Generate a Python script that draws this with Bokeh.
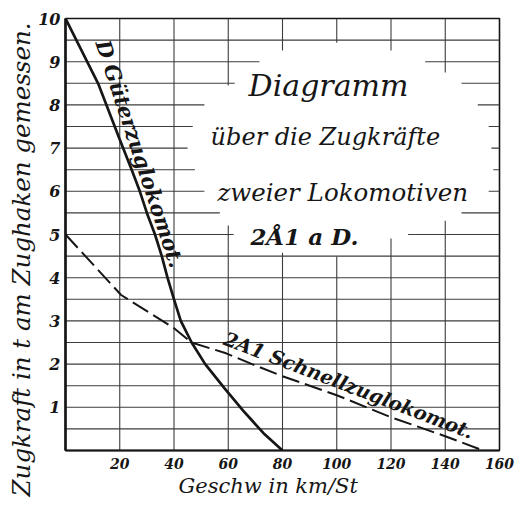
import numpy as np
from bokeh.plotting import figure
from bokeh.models import FixedTicker, Range1d, Title
from bokeh.core.properties import value
from bokeh.embed import file_html
from bokeh.resources import INLINE

# ---- data ----
# D Güterzuglokomotive (solid)
d_speed = [0, 12, 20, 24.4, 27.4, 30, 33, 35.5, 37.6, 40, 42.5, 46.5, 51.5, 58.5, 65.4, 73, 80]
d_force = [10, 8.5, 7.2, 6.5, 6.0, 5.5, 5.0, 4.5, 4.0, 3.5, 3.0, 2.5, 2.0, 1.45, 0.93, 0.4, 0]
# 2A1 Schnellzuglokomotive (dashed)
a_speed = [0, 20.5, 39.6, 46.5, 59.2, 68.8, 80, 100, 120, 140, 154]
a_force = [5.0, 3.6, 2.85, 2.5, 2.25, 2.0, 1.72, 1.28, 0.77, 0.33, 0]

x_ticks = [20, 40, 60, 80, 100, 120, 140, 160]
y_ticks = [1, 2, 3, 4, 5, 6, 7, 8, 9, 10]

# gridlines were left blank behind the title block
h_gap_y = [9.0, 8.5, 8.0, 7.5, 7.0, 6.5, 6.0, 5.5, 5.0]
h_gap_start = [71.5, 62.4, 51.2, 46.9, 45.0, 47.7, 51.2, 56.9, 62.0]
h_gap_end = [132.6, 146.0, 152.0, 156.0, 157.0, 157.7, 156.0, 146.0, 126.3]
v_gap_x = [60, 80, 100, 120, 140]
v_gap_top = [8.45, 9.26, 9.44, 9.26, 8.75]
v_gap_bottom = [5.21, 4.58, 4.49, 4.91, 5.32]

title_lines = ["Diagramm", "über die Zugkräfte", "zweier Lokomotiven", "2Å1 a D."]
label_d = "D Güterzuglokomot."
label_a = "2A1 Schnellzuglokomot."
x_title = "Geschw in km/St"
y_title = "Zugkraft in t am Zughaken gemessen."

INK = "#161616"
GRID = "#3c3c3c"
SERIF = value("DejaVu Serif")

p = figure(width=524, height=508, x_range=Range1d(0, 160), y_range=Range1d(0, 10),
           output_backend="svg", toolbar_location=None,
           min_border_left=65, min_border_right=25, min_border_top=18, min_border_bottom=58,
           background_fill_color="white", border_fill_color="white")
p.xgrid.grid_line_color = None
p.ygrid.grid_line_color = None
p.outline_line_color = INK
p.outline_line_width = 1.6

# ---- grid as segments ----
hx0, hy0, hx1, hy1 = [], [], [], []
for yv in np.arange(0.5, 10.0, 0.5):
    yv = float(yv)
    if yv in h_gap_y:
        i = h_gap_y.index(yv)
        hx0 += [0, h_gap_end[i]]; hx1 += [h_gap_start[i], 160]
        hy0 += [yv, yv]; hy1 += [yv, yv]
    else:
        hx0.append(0); hx1.append(160); hy0.append(yv); hy1.append(yv)
p.segment(hx0, hy0, hx1, hy1, line_color=GRID, line_width=1.1)

vx0, vy0, vx1, vy1 = [], [], [], []
for xv in x_ticks[:-1]:
    if xv in v_gap_x:
        i = v_gap_x.index(xv)
        vx0 += [xv, xv]; vx1 += [xv, xv]
        vy0 += [0, v_gap_top[i]]; vy1 += [v_gap_bottom[i], 10]
    else:
        vx0.append(xv); vx1.append(xv); vy0.append(0); vy1.append(10)
p.segment(vx0, vy0, vx1, vy1, line_color=GRID, line_width=1.1)

# ---- curves ----
p.line(a_speed, a_force, line_color=INK, line_width=2.0, line_dash="18 6")
p.line(d_speed, d_force, line_color=INK, line_width=2.7)

# ---- curve labels ----
p.text(x=[13.6], y=[9.49], text=[label_d], angle=-1.25,
       text_font=SERIF, text_font_style="bold italic", text_font_size="21px",
       text_color=INK, text_align="left", text_baseline="alphabetic")
p.text(x=[58.6], y=[2.60], text=[label_a], angle=-0.365,
       text_font=SERIF, text_font_style="bold italic", text_font_size="19.5px",
       text_color=INK, text_align="left", text_baseline="alphabetic")

# ---- title block ----
p.text(x=[67.5], y=[8.45], text=[title_lines[0]], text_font=SERIF, text_font_style="italic",
       text_font_size="30px", text_color=INK, text_baseline="alphabetic")
p.text(x=[53.5], y=[7.26], text=[title_lines[1]], text_font=SERIF, text_font_style="italic",
       text_font_size="24px", text_color=INK, text_baseline="alphabetic")
p.text(x=[56.0], y=[5.97], text=[title_lines[2]], text_font=SERIF, text_font_style="italic",
       text_font_size="24.5px", text_color=INK, text_baseline="alphabetic")
p.text(x=[68.2], y=[4.95], text=[title_lines[3]], text_font=SERIF, text_font_style="bold italic",
       text_font_size="23px", text_color=INK, text_baseline="alphabetic")

# ---- axes ----
p.xaxis.ticker = FixedTicker(ticks=x_ticks)
p.yaxis.ticker = FixedTicker(ticks=y_ticks)
for ax in (p.xaxis[0], p.yaxis[0]):
    ax.major_tick_line_color = None
    ax.minor_tick_line_color = None
    ax.major_tick_out = 0
    ax.major_tick_in = 0
    ax.minor_tick_out = 0
    ax.minor_tick_in = 0
    ax.axis_line_color = INK
    ax.major_label_text_font = "DejaVu Serif"
    ax.major_label_text_font_style = "bold italic"
    ax.major_label_text_color = INK
p.yaxis.axis_line_width = 2.6
p.xaxis.axis_line_width = 2.2
p.xaxis.major_label_text_font_size = "14px"
p.yaxis.major_label_text_font_size = "16px"
p.yaxis.major_label_text_baseline = "alphabetic"
p.xaxis.major_label_standoff = 7
p.yaxis.major_label_standoff = 5

# axis titles, placed where the draughtsman wrote them
p.add_layout(Title(text=x_title, align="left", offset=113, standoff=0,
                   text_font="DejaVu Serif", text_font_style="italic",
                   text_font_size="21px", text_color=INK), "below")
p.add_layout(Title(text=y_title, align="right", offset=4, standoff=0,
                   text_font="DejaVu Serif", text_font_style="italic",
                   text_font_size="24.5px", text_color=INK), "left")

open("out.html", "w").write(file_html(p, INLINE))
